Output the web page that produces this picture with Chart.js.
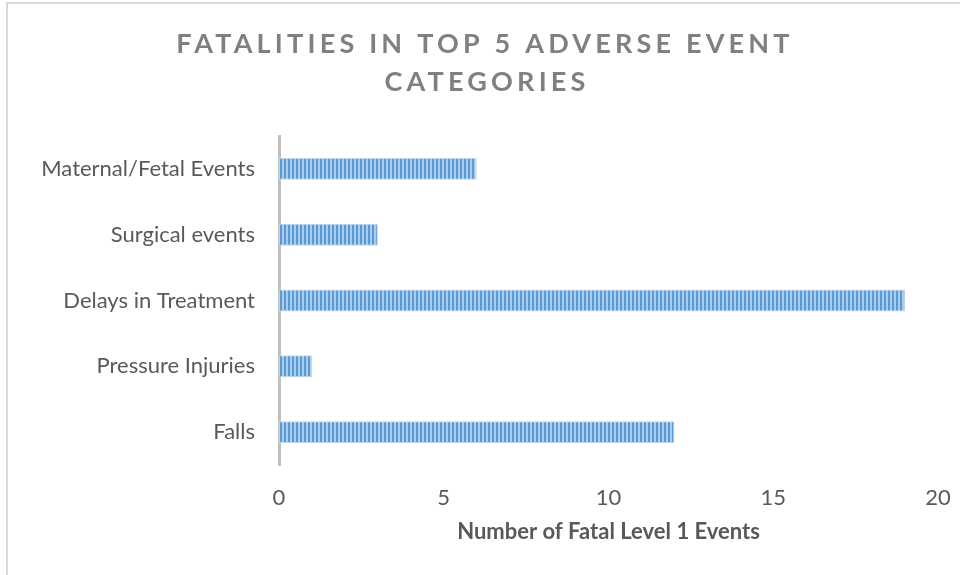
<!DOCTYPE html>
<html>
<head>
<meta charset="utf-8">
<script src="https://cdn.jsdelivr.net/npm/chart.js@4"></script>
<style>
  html, body { margin: 0; padding: 0; background: #ffffff; }
  #wrap { width: 960px; height: 575px; position: relative; }
</style>
</head>
<body>
<div id="wrap"><canvas id="c" width="960" height="575"></canvas></div>
<script>
const titleLines = ['FATALITIES IN TOP 5 ADVERSE EVENT', 'CATEGORIES'];
const categories = ['Maternal/Fetal Events', 'Surgical events', 'Delays in Treatment', 'Pressure Injuries', 'Falls'];
const fatalities = [6, 3, 19, 1, 12];
const xTicks = [0, 5, 10, 15, 20];
const xAxisTitle = 'Number of Fatal Level 1 Events';

function stripePattern() {
  const p = document.createElement('canvas');
  p.width = 4; p.height = 4;
  const g = p.getContext('2d');
  g.fillStyle = '#a9cbec';
  g.fillRect(0, 0, 4, 4);
  g.fillStyle = '#5b9bd5';
  g.fillRect(0, 0, 2, 4);
  return document.getElementById('c').getContext('2d').createPattern(p, 'repeat');
}

const frameAndTitle = {
  id: 'frameAndTitle',
  beforeDraw(chart) {
    const ctx = chart.ctx;
    ctx.save();
    ctx.fillStyle = '#ffffff';
    ctx.fillRect(0, 0, chart.width, chart.height);
    ctx.strokeStyle = '#d9d9d9';
    ctx.lineWidth = 2;
    ctx.strokeRect(7, 3, chart.width + 20, chart.height + 20);
    ctx.restore();
  },
  afterDraw(chart) {
    const ctx = chart.ctx;
    ctx.save();
    ctx.font = 'bold 27px Lato';
    ctx.fillStyle = '#808080';
    ctx.textAlign = 'center';
    ctx.textBaseline = 'middle';
    try { ctx.letterSpacing = '4.2px'; } catch (e) {}
    ctx.fillText(titleLines[0], 485, 44);
    ctx.fillText(titleLines[1], 487, 82);
    ctx.restore();
  }
};

new Chart(document.getElementById('c'), {
  type: 'bar',
  data: {
    labels: categories,
    datasets: [{
      data: fatalities,
      backgroundColor: stripePattern(),
      borderColor: '#bdd7ee',
      borderWidth: 1,
      borderSkipped: false,
      barPercentage: 0.5,
      categoryPercentage: 0.667
    }]
  },
  options: {
    indexAxis: 'y',
    responsive: false,
    animation: false,
    devicePixelRatio: 1,
    layout: { padding: { top: 136, left: 0, right: 22, bottom: 26 } },
    plugins: { legend: { display: false }, tooltip: { enabled: false }, title: { display: false } },
    scales: {
      x: {
        min: 0, max: 20,
        afterBuildTicks(scale) { scale.ticks = xTicks.map(v => ({ value: v })); },
        grid: { display: false, drawTicks: false },
        border: { display: false },
        ticks: { color: '#595959', font: { family: 'Lato', size: 22 }, padding: 20 },
        title: { display: true, text: xAxisTitle, color: '#595959', font: { family: 'Lato', size: 22, weight: 'bold' }, padding: { top: 8 } },
        afterFit(scale) { scale.height = 84; scale.paddingRight = 0; scale.paddingLeft = 0; }
      },
      y: {
        grid: { display: false, drawTicks: false },
        border: { display: true, color: '#bfbfbf', width: 3 },
        ticks: { color: '#595959', font: { family: 'Lato', size: 22 }, padding: 24 },
        afterFit(scale) { scale.width = 279; scale.paddingTop = 0; scale.paddingBottom = 0; }
      }
    }
  },
  plugins: [frameAndTitle]
});
</script>
</body>
</html>
